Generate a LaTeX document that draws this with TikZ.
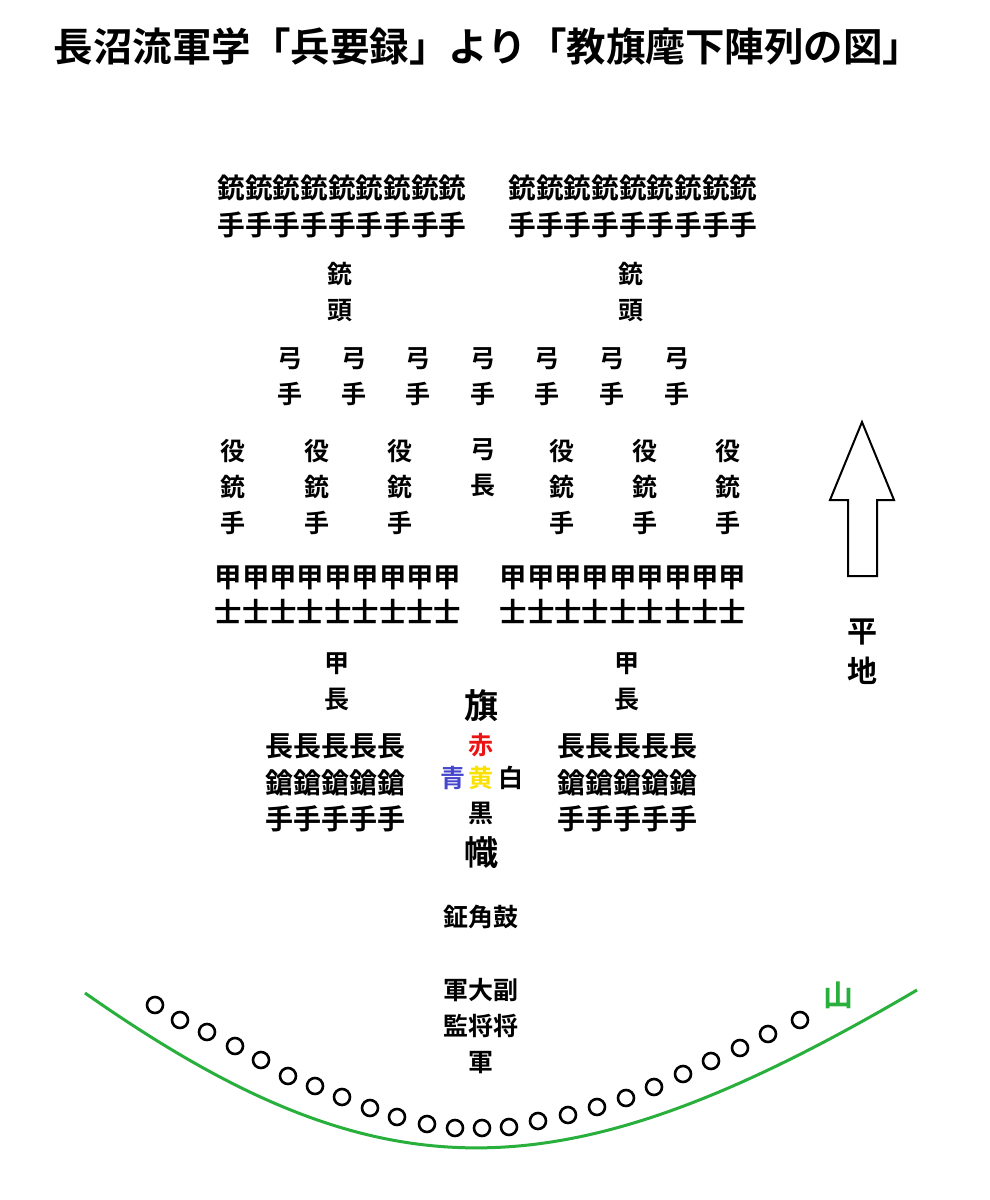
\documentclass[tikz,border=0pt]{standalone}
\usepackage{fontspec}
\newfontfamily\jp{Noto Sans CJK JP}[BoldFont={* Bold}]
\definecolor{aka}{RGB}{235,20,20}
\definecolor{ao}{RGB}{70,70,205}
\definecolor{ki}{RGB}{250,225,0}
\definecolor{midori}{RGB}{40,175,60}
\begin{document}
\begin{tikzpicture}[x=1pt,y=-1pt,
  t/.style={inner sep=0pt,font=\jp\bfseries\fontsize{25}{36}\selectfont,align=center},
  big/.style={inner sep=0pt,align=center,font=\jp\bfseries\fontsize{34}{40}\selectfont},
  circ/.style={draw,line width=2.6pt,circle,minimum size=16pt,inner sep=0pt}]
\useasboundingbox (0,0) rectangle (990,1200);
\node[big,font=\jp\bfseries\fontsize{39.5}{44}\selectfont] (title) at (488,46) {長沼流軍学「兵要録」より「教旗麾下陣列の図」};
% gunners
\node[t,font=\jp\bfseries\fontsize{27.7}{37}\selectfont] (g1) at (342,206) {銃銃銃銃銃銃銃銃銃\\手手手手手手手手手};
\node[t,font=\jp\bfseries\fontsize{27.7}{37}\selectfont] (g2) at (633,206) {銃銃銃銃銃銃銃銃銃\\手手手手手手手手手};
\node[t] (gt1) at (340,292) {銃\\頭};
\node[t] (gt2) at (631,292) {銃\\頭};
\foreach \x [count=\i] in {290,354,418,483,547,612,677}
  \node[t] (y\i) at (\x,377) {弓\\手};
\foreach \x [count=\i] in {233,317,400,562,645,728}
  \node[t] (e\i) at (\x,487) {役\\銃\\手};
\node[t] (yc) at (483,468) {弓\\長};
\node[t,font=\jp\bfseries\fontsize{27.4}{35}\selectfont] (k1) at (338,595) {甲甲甲甲甲甲甲甲甲\\士士士士士士士士士};
\node[t,font=\jp\bfseries\fontsize{27.4}{35}\selectfont] (k2) at (623,595) {甲甲甲甲甲甲甲甲甲\\士士士士士士士士士};
\node[t] (kc1) at (337,682) {甲\\長};
\node[t] (kc2) at (627,682) {甲\\長};
\node[t,font=\jp\bfseries\fontsize{28}{36.5}\selectfont] (s1) at (335,783) {長長長長長\\鎗鎗鎗鎗鎗\\手手手手手};
\node[t,font=\jp\bfseries\fontsize{28}{36.5}\selectfont] (s2) at (627,783) {長長長長長\\鎗鎗鎗鎗鎗\\手手手手手};
% flags
\node[big] (hata) at (481,706) {旗};
\node[t,text=aka] (aka) at (481,745) {赤};
\node[t,text=ao] (ao) at (453,778) {青};
\node[t,text=ki] (ki) at (481,778) {黄};
\node[t] (shiro) at (511,778) {白};
\node[t] (kuro) at (481,813) {黒};
\node[big] (nobori) at (481,853) {幟};
\node[t] (drum) at (481,917) {鉦角鼓};
\node[t] (gen) at (481,1026) {軍大副\\監将将\\軍};
% arrow
\draw[line width=2pt] (848,576) -- (848,500) -- (830,500) -- (862,422) -- (894,500) -- (877,500) -- (877,576) -- cycle;
\node[big,font=\jp\bfseries\fontsize{30}{40}\selectfont] (heichi) at (862,652) {平\\地};
% mountain
\draw[midori,line width=3pt] (85,993) .. controls (380,1200) and (560,1200) .. (917,990);
\node[big,text=midori,font=\jp\bfseries\fontsize{30}{36}\selectfont] (yama) at (838,995) {山};
\foreach \x/\y [count=\i] in {155/1005,180/1020,207/1032,235/1046,261/1060,288/1076,315/1086,342/1097,370/1108,397/1117,427/1124,455/1128,482/1128,509/1127,538/1121,568/1115,597/1107,626/1098,654/1087,683/1074,711/1061,740/1048,768/1034,800/1020}
  \node[circ] (c\i) at (\x,\y) {};
\end{tikzpicture}
\end{document}
